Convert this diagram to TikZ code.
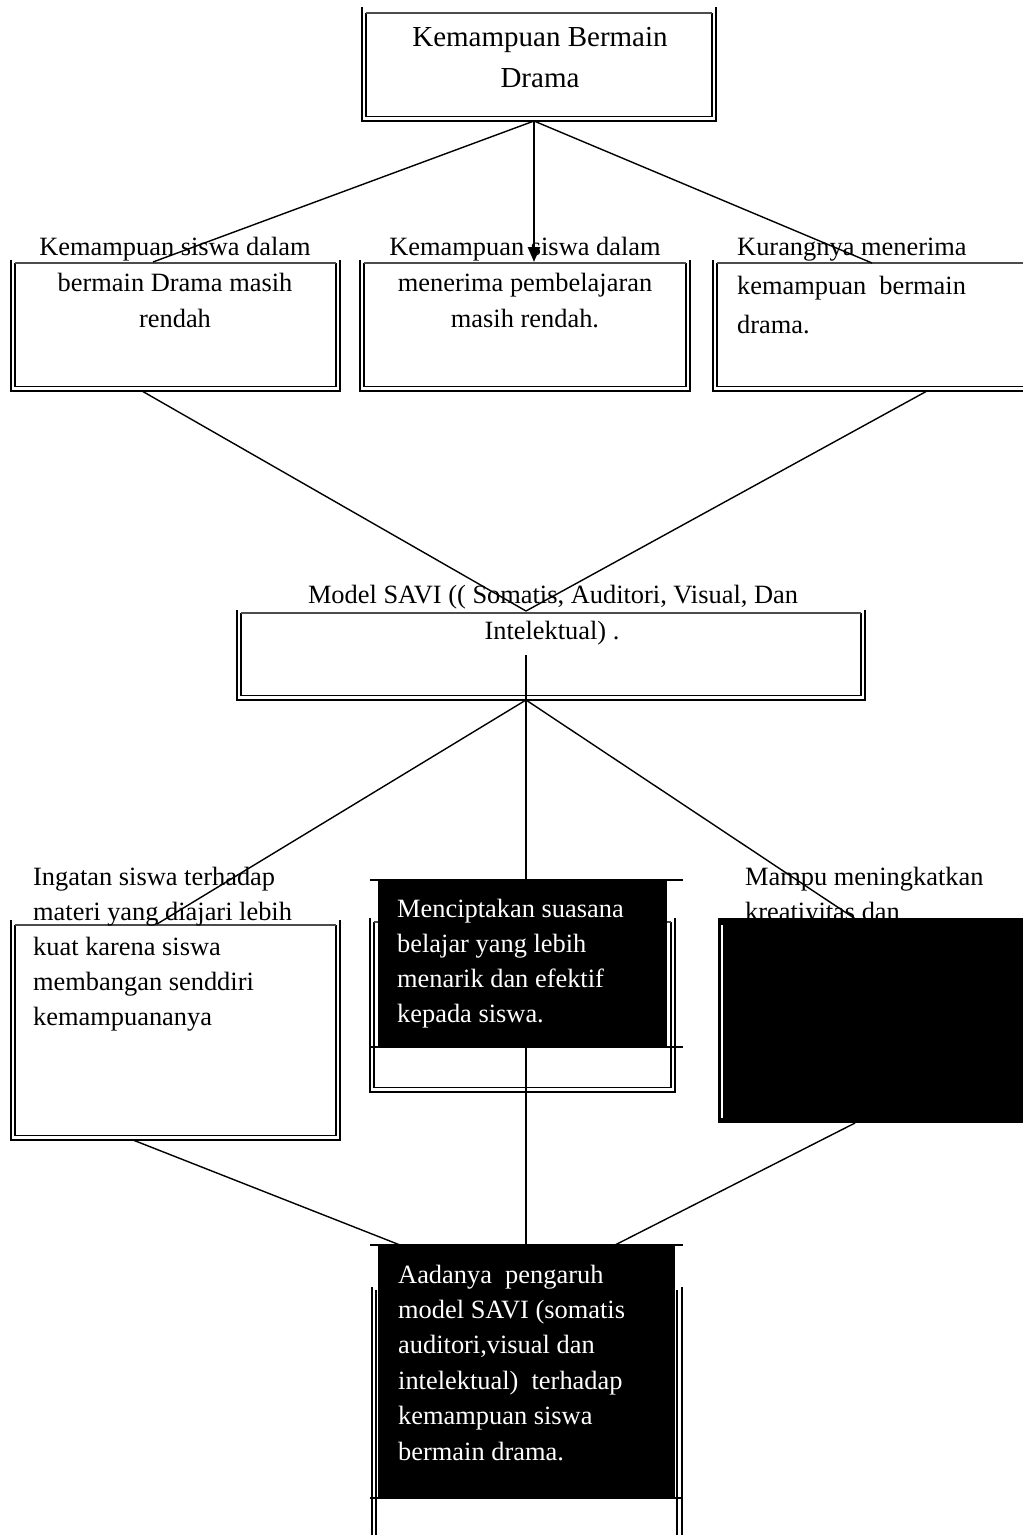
\documentclass[tikz,border=0pt]{standalone}
\usepackage{fontspec}
\setmainfont{Liberation Serif}
\usetikzlibrary{arrows.meta}
\newcommand\dblbox[5]{%
  \draw[bord] (#1,#3) -- (#1,#5) -- (#2,#5) -- (#2,#3);
  \draw[bord] (#1+4,#4) -- (#1+4,#5-4.5) -- (#2-4,#5-4.5) -- (#2-4,#4);
  \draw[topl] (#1+4,#4) -- (#2-4,#4);
}
\begin{document}
\begin{tikzpicture}[x=1pt,y=-1pt,
  bord/.style={line width=1.3pt, black},
  topl/.style={line width=1.3pt, black!70},
  conn/.style={line width=1.4pt, black},
  trunk/.style={line width=2.6pt, black},
  txt/.style={inner sep=0pt, font=\fontsize{26.4}{36}\selectfont},
  bigtxt/.style={inner sep=0pt, font=\fontsize{29}{41}\selectfont},
  wtxt/.style={txt, text=white},
  blk/.style={fill=black, draw=none},
  hl/.style={line width=1.6pt, black}
]
\clip (0,0) rectangle (1023,1535);
\fill[white] (0,0) rectangle (1023,1535);

% ---- box borders ----
\dblbox{362}{716}{7}{13}{121}
\dblbox{11}{340}{260}{263}{391}
\dblbox{360}{690}{260}{263}{391}
\dblbox{713}{1040}{260}{263}{391}
\dblbox{237}{865}{610}{613}{700}
\dblbox{11}{340}{920}{925}{1140}
\dblbox{370}{675}{918}{922}{1092}
\draw[bord] (372,1287) -- (372,1540);
\draw[bord] (376,1290) -- (376,1540);
\draw[bord] (677,1290) -- (677,1540);
\draw[bord] (682,1287) -- (682,1540);

% ---- texts (black) ----
\node[bigtxt, anchor=base] (t1a) at (540,46) {Kemampuan Bermain};
\node[bigtxt, anchor=base] (t1b) at (540,87) {Drama};

\foreach \t [count=\i] in {Kemampuan siswa dalam, bermain Drama masih, rendah}
  \node[txt, anchor=base] (ta\i) at (175,{255+36*(\i-1)}) {\t};
\foreach \t [count=\i] in {Kemampuan siswa dalam, menerima pembelajaran, masih rendah.}
  \node[txt, anchor=base] (tb\i) at (525,{255+36*(\i-1)}) {\t};
\foreach \t [count=\i] in {Kurangnya menerima, kemampuan~ bermain, drama.}
  \node[txt, anchor=base west] (tc\i) at (737,{255+39*(\i-1)}) {\t};

\node[txt, anchor=base] (ts1) at (553,603) {Model SAVI (( Somatis, Auditori, Visual, Dan};
\node[txt, anchor=base] (ts2) at (552,639) {Intelektual) .};

\foreach \t [count=\i] in {Ingatan siswa terhadap, materi yang diajari lebih, kuat karena siswa, membangan senddiri, kemampuananya}
  \node[txt, anchor=base west] (td\i) at (33,{885+35*(\i-1)}) {\t};
\node[txt, anchor=base west] (tf1) at (745,885) {Mampu meningkatkan};
\node[txt, anchor=base west] (tf2) at (745,920) {kreatiyitas dan};

% ---- connector end points ----
\coordinate (b1s) at (534,121);
\coordinate (b2at) at (153,262);
\coordinate (b2bt) at (534,262);
\coordinate (b2ct) at (872,263);
\coordinate (b2ab) at (142,391);
\coordinate (b2cb) at (927,391);
\coordinate (savit) at (526,611);
\coordinate (savic) at (526,655);
\coordinate (savib) at (526,700);
\coordinate (b3at) at (157,924);
\coordinate (b3ct) at (866,926);
\coordinate (b3ab) at (133,1140);
\coordinate (b3cb) at (855,1123);
\coordinate (b4t) at (526,1245);
\coordinate (b4l) at (400,1245);
\coordinate (b4r) at (615,1245);

% ---- connectors ----
\draw[trunk, -{Triangle[length=15pt,width=12pt]}] (b1s) -- (b2bt);
\draw[conn] (b1s) -- (b2at);
\draw[conn] (b1s) -- (b2ct);
\draw[conn] (b2ab) -- (savit);
\draw[conn] (b2cb) -- (savit);
\draw[trunk] (savic) -- (b4t);
\draw[conn] (savib) -- (b3at);
\draw[conn] (savib) -- (b3ct);
\draw[conn] (b3ab) -- (b4l);
\draw[conn] (b3cb) -- (b4r);

% ---- black panels ----
\fill[blk] (378,880) rectangle (667,1047);
\draw[hl] (370,880) -- (683,880);
\draw[hl] (370,1047) -- (683,1047);
\fill[blk] (718,918) rectangle (1030,1123);
\draw[white, line width=1.2pt] (722,925) -- (722,1118);
\fill[blk] (378,1245) rectangle (675,1498);
\draw[hl] (370,1245) -- (683,1245);
\draw[hl] (370,1498) -- (683,1498);

% ---- white texts ----
\foreach \t [count=\i] in {Menciptakan suasana, belajar yang lebih, menarik dan efektif, kepada siswa.}
  \node[wtxt, anchor=base west] (tm\i) at (397,{917+35*(\i-1)}) {\t};
\foreach \t [count=\i] in {Aadanya~ pengaruh, model SAVI (somatis, {auditori,visual dan}, intelektual)~ terhadap, kemampuan siswa, bermain drama.}
  \node[wtxt, anchor=base west] (tz\i) at (398,{1283+35.4*(\i-1)}) {\t};
\end{tikzpicture}
\end{document}
